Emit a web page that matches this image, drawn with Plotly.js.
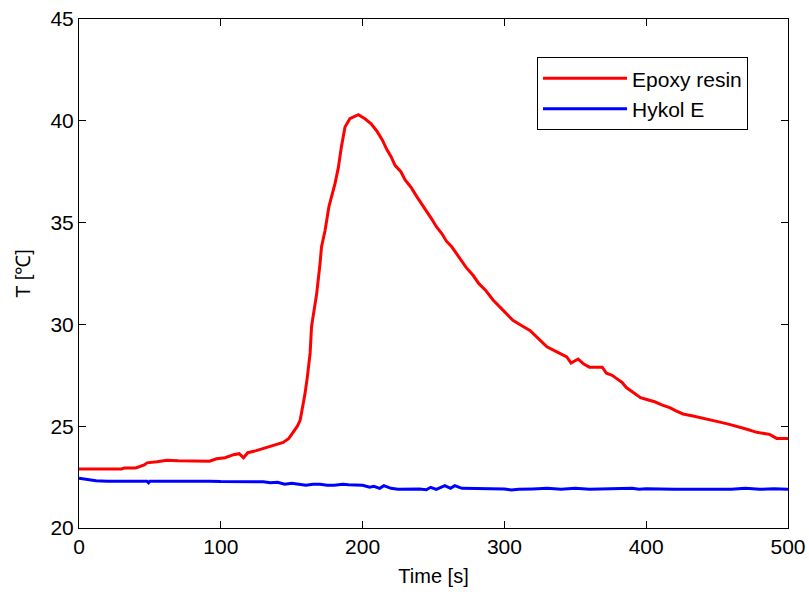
<!DOCTYPE html>
<html>
<head>
<meta charset="utf-8">
<script src="https://cdn.plot.ly/plotly-3.0.1.min.js"></script>
<style>html,body{margin:0;padding:0;background:#fff;}#chart{width:809px;height:592px;}</style>
</head>
<body>
<div id="chart"></div>
<script>
// Epoxy resin series (time in s, temperature in °C)
const epoxyTime = [0,30,32,40,46,48,55,62,70,88,92,97,103,109,113,116,119,125,135,140,144,148,151,154,156,158,159.4,161,163,164,167.6,170,171,173.5,176.3,180.5,182.9,185,187.6,191,197,201.7,206,210,214,217,220,223,227,230,234,238,241,245,249,252,256,259,263,266,270,273,278,282,287,292,299,306,312,318,324,330,337,344,347,352,356,360,365,369,372,376,379,383,386,391,396,401,406,411,417,421,426,433,440,446,452,458,464,471,478,483,487,492,500];
const epoxyTemp = [22.9,22.9,22.95,22.95,23.1,23.2,23.25,23.33,23.3,23.3,23.28,23.4,23.45,23.6,23.65,23.45,23.7,23.8,24.0,24.1,24.2,24.4,24.7,25.0,25.3,26.0,26.6,27.4,28.6,29.9,31.5,33.0,33.8,34.6,35.8,36.9,37.7,38.7,39.7,40.1,40.3,40.1,39.85,39.5,39.05,38.6,38.25,37.8,37.5,37.1,36.75,36.3,36.0,35.6,35.15,34.8,34.45,34.1,33.8,33.5,33.1,32.8,32.4,32.0,31.65,31.2,30.7,30.2,29.95,29.7,29.3,28.9,28.65,28.4,28.1,28.3,28.05,27.9,27.9,27.9,27.6,27.5,27.35,27.15,26.9,26.65,26.4,26.3,26.2,26.05,25.9,25.75,25.6,25.5,25.4,25.3,25.2,25.1,25.0,24.85,24.7,24.65,24.6,24.4,24.4];

// Hykol E series
const hykolTime = [0,5,8,12,20,48,49,50,92,100,130,135,140,145,150,155,160,165,170,175,180,186,190,200,205,208,212,215,220,225,240,245,248,252,258,262,265,270,300,305,310,320,330,340,350,360,380,390,395,400,420,460,470,480,490,500];
const hykolTemp = [22.45,22.4,22.35,22.32,22.3,22.3,22.22,22.3,22.3,22.28,22.27,22.22,22.25,22.15,22.2,22.15,22.1,22.15,22.15,22.1,22.1,22.15,22.12,22.1,22.0,22.05,21.95,22.08,21.95,21.9,21.92,21.88,22.0,21.9,22.08,21.95,22.08,21.95,21.92,21.87,21.9,21.92,21.95,21.9,21.95,21.9,21.92,21.95,21.9,21.93,21.9,21.9,21.95,21.9,21.93,21.9];

const seriesNames = ["Epoxy resin", "Hykol E"];
const xTicks = [0,100,200,300,400,500];
const yTicks = [20,25,30,35,40,45];

const FONT = "Liberation Sans, Arial, Helvetica, sans-serif";

const traces = [
  {x: epoxyTime, y: epoxyTemp, name: seriesNames[0], type: "scatter", mode: "lines",
   line: {color: "#ff0000", width: 3}},
  {x: hykolTime, y: hykolTemp, name: seriesNames[1], type: "scatter", mode: "lines",
   line: {color: "#0000ff", width: 3}}
];

const axisCommon = {
  showline: true, linecolor: "#000", linewidth: 1, mirror: "ticks",
  ticks: "inside", ticklen: 7, tickwidth: 1, tickcolor: "#000",
  showgrid: false, zeroline: false,
  tickfont: {family: FONT, size: 21, color: "#000"}
};

const layout = {
  width: 809, height: 592,
  margin: {l: 79, r: 21, t: 19, b: 64},
  paper_bgcolor: "#fff", plot_bgcolor: "#fff",
  font: {family: FONT, color: "#000"},
  showlegend: true,
  xaxis: Object.assign({}, axisCommon, {
    range: [0, 500], tickvals: xTicks, ticktext: xTicks.map(String),
    title: {text: "Time [s]", font: {family: FONT, size: 20, color: "#000"}, standoff: 11}
  }),
  yaxis: Object.assign({}, axisCommon, {
    range: [20, 45], tickvals: yTicks, ticktext: yTicks.map(String),
    title: {text: "T [℃]", font: {family: FONT, size: 20, color: "#000"}, standoff: 14}
  }),
  legend: {
    x: 0.646, y: 0.925, xanchor: "left", yanchor: "top",
    bgcolor: "#fff", bordercolor: "#000", borderwidth: 1,
    font: {family: FONT, size: 21, color: "#000"},
    itemwidth: 84, tracegroupgap: 0
  }
};

Plotly.newPlot("chart", traces, layout, {displayModeBar: false, staticPlot: true});
</script>
</body>
</html>
